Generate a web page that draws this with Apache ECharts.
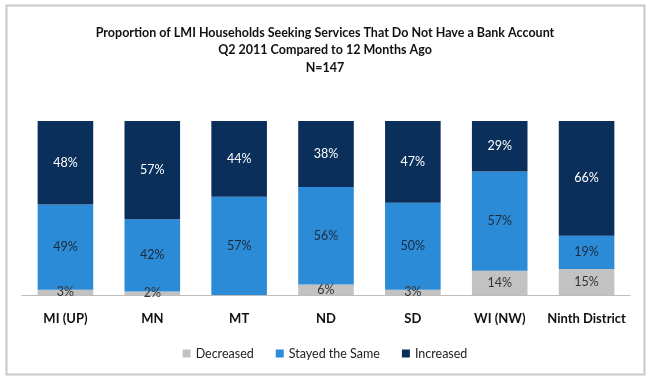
<!DOCTYPE html>
<html><head><meta charset="utf-8">
<script src="https://cdn.jsdelivr.net/npm/echarts@6/dist/echarts.min.js"></script>
<style>html,body{margin:0;padding:0;background:#fff}#c{width:650px;height:381px}</style>
</head><body><div id="c"></div>
<script>
const categories = ['MI (UP)', 'MN', 'MT', 'ND', 'SD', 'WI (NW)', 'Ninth District'];
const decreased = [3, 2, 0, 6, 3, 14, 15];
const stayedSame = [49, 42, 57, 56, 50, 57, 19];
const increased = [48, 57, 44, 38, 47, 29, 66];
const seriesNames = ['Decreased', 'Stayed the Same', 'Increased'];
const titleLines = ['Proportion of LMI Households Seeking Services That Do Not Have a Bank Account', 'Q2 2011 Compared to 12 Months Ago', 'N=147'];

const totals = categories.map((c, i) => decreased[i] + stayedSame[i] + increased[i]);
function norm(arr) { return arr.map((v, i) => ({ value: v / totals[i] * 100, raw: v })); }
const FONT = 'Lato, "Open Sans", sans-serif';
const colors = ['#c2c2c2', '#2b8bd7', '#0b2f5b'];
const labelColors = ['#333', '#1d2a3a', '#ffffff'];
const raws = [decreased, stayedSame, increased];

const chart = echarts.init(document.getElementById('c'), null, { renderer: 'canvas' });
chart.setOption({
  animation: false,
  graphic: [{
    type: 'rect', shape: { x: 6.5, y: 5.5, width: 638, height: 369 },
    style: { fill: 'none', stroke: '#c8c8c8', lineWidth: 2 }, silent: true, z: -1
  }],
  title: {
    text: titleLines.join('\n'), left: 'center', top: 19,
    textStyle: { fontFamily: FONT, fontSize: 12.5, fontWeight: 'bold', color: '#111', lineHeight: 17.5 }
  },
  legend: {
    bottom: 16, left: 'center', itemWidth: 8, itemHeight: 8, itemGap: 22, icon: 'rect',
    textStyle: { fontFamily: FONT, fontSize: 12.5, color: '#222' },
    data: seriesNames
  },
  grid: { left: 22, right: 20, top: 121, bottom: 86, containLabel: false },
  xAxis: {
    type: 'category', data: categories,
    axisLine: { lineStyle: { color: '#bdbdbd', width: 1 } },
    axisTick: { show: false },
    axisLabel: { interval: 0, fontFamily: FONT, fontSize: 13, fontWeight: 'bold', color: '#111', margin: 17 }
  },
  yAxis: { type: 'value', min: 0, max: 100, show: false, splitLine: { show: false } },
  series: seriesNames.map((name, k) => ({
    name, type: 'bar', stack: 'total', barWidth: '64%',
    itemStyle: { color: colors[k] },
    data: norm(raws[k]),
    label: {
      show: true, position: 'inside',
      fontFamily: FONT, fontSize: 12.5, color: labelColors[k],
      formatter: p => p.data.raw > 0 ? p.data.raw + '%' : ''
    }
  }))
});
</script></body></html>
